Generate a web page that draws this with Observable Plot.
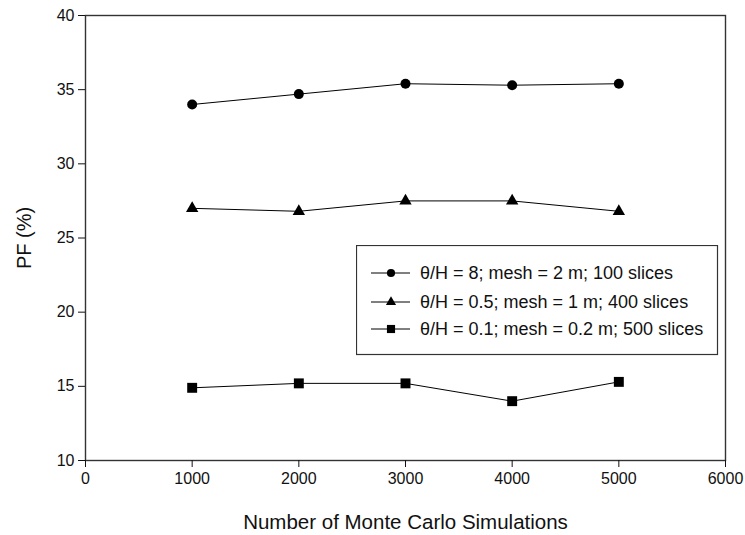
<!DOCTYPE html>
<html>
<head>
<meta charset="utf-8">
<script src="https://cdn.jsdelivr.net/npm/d3@7"></script>
<script src="https://cdn.jsdelivr.net/npm/@observablehq/plot@0.6"></script>
<style>
  html, body { margin: 0; padding: 0; background: #fff; }
  #wrap { position: relative; width: 745px; height: 535px; font-family: Arial, "Liberation Sans", sans-serif; }
  #legend { position: absolute; left: 356px; top: 245px; }
</style>
</head>
<body>
<div id="wrap"></div>
<script>
const simulations = [1000, 2000, 3000, 4000, 5000];
const seriesNames = [
  "θ/H = 8; mesh = 2 m; 100 slices",
  "θ/H = 0.5; mesh = 1 m; 400 slices",
  "θ/H = 0.1; mesh = 0.2 m; 500 slices"
];
const seriesSymbols = ["circle", "triangle", "square"];
const pfCircle = [34.0, 34.7, 35.4, 35.3, 35.4];
const pfTriangle = [27.0, 26.8, 27.5, 27.5, 26.8];
const pfSquare = [14.9, 15.2, 15.2, 14.0, 15.3];
const xTicks = [0, 1000, 2000, 3000, 4000, 5000, 6000];
const yTicks = [10, 15, 20, 25, 30, 35, 40];

const allValues = [pfCircle, pfTriangle, pfSquare];
const data = [];
allValues.forEach((vals, i) => {
  vals.forEach((v, j) => data.push({series: seriesNames[i], symbol: seriesSymbols[i], x: simulations[j], y: v}));
});
const symSize = {circle: 5, triangle: 4.6, square: 5.6};

const chart = Plot.plot({
  width: 745,
  height: 535,
  marginLeft: 85,
  marginRight: 20,
  marginTop: 15,
  marginBottom: 75,
  style: {fontFamily: "Arial, 'Liberation Sans', sans-serif", fontSize: "16px", color: "#111", background: "#fff"},
  x: {domain: [0, 6000], label: null},
  y: {domain: [10, 40], label: null},
  marks: [
    Plot.frame({stroke: "#333", strokeWidth: 1.4}),
    Plot.axisX({ticks: xTicks, tickFormat: d => String(d), tickSize: 7, tickPadding: 5, label: null, fontSize: 16}),
    Plot.axisY({ticks: yTicks, tickFormat: d => String(d), tickSize: 7, tickPadding: 4, label: null, fontSize: 16}),
    Plot.line(data, {x: "x", y: "y", z: "series", stroke: "#000", strokeWidth: 1}),
    ...seriesSymbols.map(s => Plot.dot(data.filter(d => d.symbol === s), {x: "x", y: "y", symbol: () => s, r: symSize[s], fill: "#000", stroke: "none"})),
    Plot.text(["Number of Monte Carlo Simulations"], {frameAnchor: "bottom", textAnchor: "middle", lineAnchor: "middle", dy: 62, fontSize: 20.5, fill: "#111"}),
    Plot.text(["PF (%)"], {frameAnchor: "left", textAnchor: "middle", lineAnchor: "middle", dx: -61, rotate: -90, fontSize: 20, fill: "#111"})
  ]
});
document.getElementById("wrap").appendChild(chart);

// Legend
const lw = 361, lh = 109;
const leg = d3.select("#wrap").append("svg").attr("id", "legend").attr("width", lw + 2).attr("height", lh + 2);
leg.append("rect").attr("x", 0.5).attr("y", 0.5).attr("width", lw).attr("height", lh).attr("fill", "#fff").attr("stroke", "#333").attr("stroke-width", 1.2);
const rowsY = [28, 57, 84];
seriesNames.forEach((name, i) => {
  const g = leg.append("g").attr("transform", `translate(0,${rowsY[i]})`);
  g.append("line").attr("x1", 15).attr("x2", 54).attr("y1", 0).attr("y2", 0).attr("stroke", "#000").attr("stroke-width", 1);
  const sym = {circle: d3.symbolCircle, triangle: d3.symbolTriangle, square: d3.symbolSquare}[seriesSymbols[i]];
  const r = symSize[seriesSymbols[i]] * 0.82;
  g.append("path").attr("d", d3.symbol(sym, r * r * Math.PI)()).attr("transform", "translate(35,0)").attr("fill", "#000");
  g.append("text").attr("x", 64).attr("y", 0).attr("dy", "0.35em").attr("font-size", 18).attr("fill", "#111")
    .attr("font-family", "Arial, 'Liberation Sans', sans-serif").text(name);
});
</script>
</body>
</html>
